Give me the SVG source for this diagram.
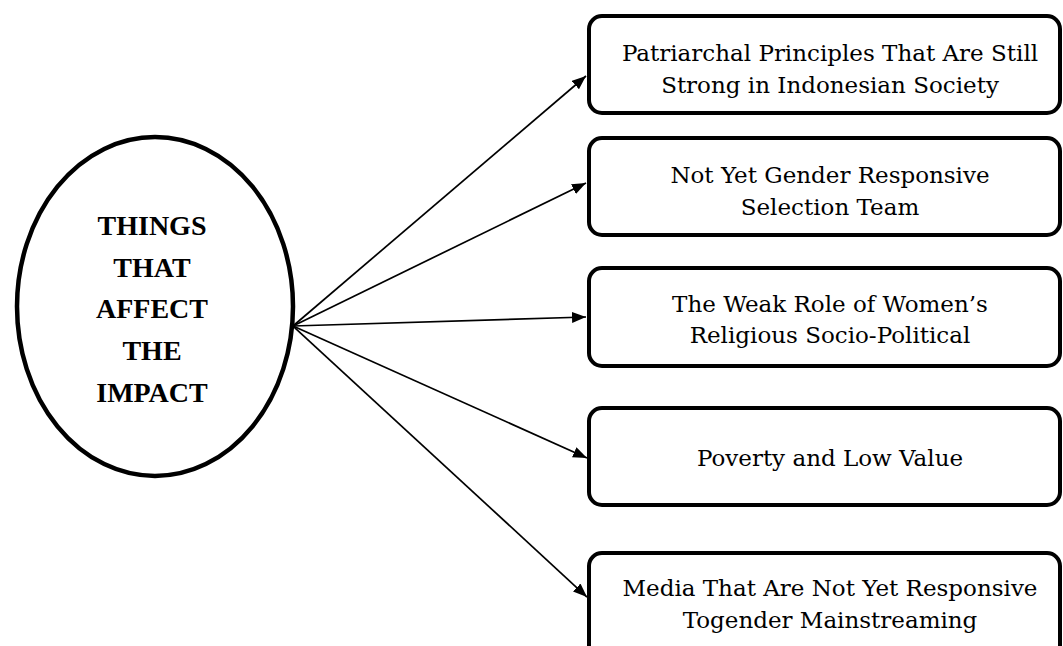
<svg xmlns="http://www.w3.org/2000/svg" width="1063" height="646" viewBox="0 0 1063 646">
  <style>
    .box { fill: #ffffff; stroke: #000000; stroke-width: 4; }
    .lbl { font-family: "DejaVu Serif", "Liberation Serif", serif; font-size: 23px; fill: #000000; text-anchor: middle; }
    .title { font-family: "Liberation Serif", "DejaVu Serif", serif; font-size: 28px; font-weight: bold; fill: #000000; text-anchor: middle; }
    .conn { stroke: #000000; stroke-width: 1.7; fill: none; marker-end: url(#arrow); }
  </style>
  <defs>
    <marker id="arrow" viewBox="0 0 14 11" refX="14" refY="5.5" markerWidth="14" markerHeight="11" markerUnits="userSpaceOnUse" orient="auto">
      <path d="M0,0 L14,5.5 L0,11 Z" fill="#000000"/>
    </marker>
  </defs>
  <rect width="1063" height="646" fill="#ffffff"/>

  <g id="connectors">
    <line class="conn" x1="293" y1="326" x2="586" y2="76"/>
    <line class="conn" x1="293" y1="326" x2="586" y2="183"/>
    <line class="conn" x1="293" y1="326" x2="586" y2="317"/>
    <line class="conn" x1="293" y1="326" x2="587" y2="458"/>
    <line class="conn" x1="293" y1="326" x2="587" y2="597"/>
  </g>

  <g id="center">
    <ellipse cx="155" cy="306.5" rx="138" ry="169.5" fill="#ffffff" stroke="#000000" stroke-width="4.5"/>
    <text class="title" x="152" y="235">THINGS</text>
    <text class="title" x="152" y="277">THAT</text>
    <text class="title" x="152" y="318">AFFECT</text>
    <text class="title" x="152" y="360">THE</text>
    <text class="title" x="152" y="402">IMPACT</text>
  </g>

  <g id="n1">
    <rect class="box" x="589" y="16" width="471" height="97" rx="13"/>
    <text class="lbl" x="830" y="61">Patriarchal Principles That Are Still</text>
    <text class="lbl" x="830" y="93">Strong in Indonesian Society</text>
  </g>
  <g id="n2">
    <rect class="box" x="589" y="138" width="471" height="97" rx="13"/>
    <text class="lbl" x="830" y="183">Not Yet Gender Responsive</text>
    <text class="lbl" x="830" y="215">Selection Team</text>
  </g>
  <g id="n3">
    <rect class="box" x="589" y="268" width="471" height="98" rx="13"/>
    <text class="lbl" x="830" y="312">The Weak Role of Women’s</text>
    <text class="lbl" x="830" y="343">Religious Socio-Political</text>
  </g>
  <g id="n4">
    <rect class="box" x="589" y="408" width="471" height="97" rx="13"/>
    <text class="lbl" x="830" y="466">Poverty and Low Value</text>
  </g>
  <g id="n5">
    <rect class="box" x="589" y="553" width="471" height="110" rx="13"/>
    <text class="lbl" x="830" y="596">Media That Are Not Yet Responsive</text>
    <text class="lbl" x="830" y="628">Togender Mainstreaming</text>
  </g>
</svg>
